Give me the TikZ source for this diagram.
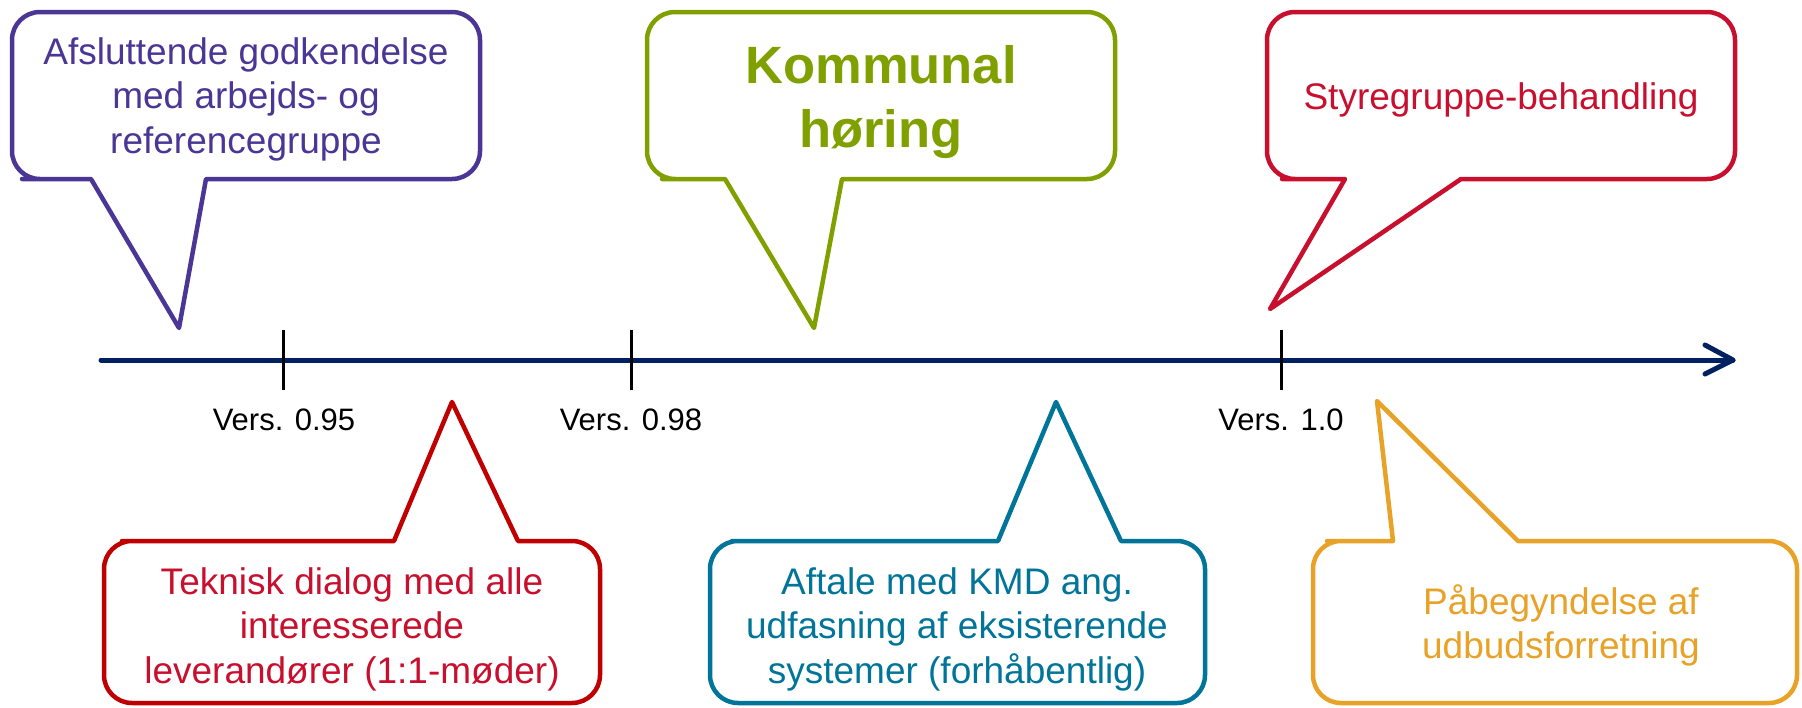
\documentclass[tikz,border=0pt]{standalone}
\usepackage{fontspec}
\setmainfont{Liberation Sans}
\definecolor{cPurple}{RGB}{75,54,150}
\definecolor{cGreen}{RGB}{128,160,0}
\definecolor{cCrimson}{RGB}{200,16,46}
\definecolor{cDarkRed}{RGB}{192,0,0}
\definecolor{cTeal}{RGB}{0,117,153}
\definecolor{cOrange}{RGB}{232,162,40}
\definecolor{cNavy}{RGB}{0,32,96}
\newcommand\mylines[1]{\begin{tabular}[t]{@{}c@{}}#1\end{tabular}}
\begin{document}
\begin{tikzpicture}[x=1pt,y=-1pt,
  bubble/.style={line width=4.5pt, line join=round, fill=white},
  txt/.style={inner sep=0pt, anchor=base, font=\fontsize{37}{44.5}\selectfont},
  bigtxt/.style={inner sep=0pt, anchor=base, font=\fontsize{52.5}{64.4}\selectfont\bfseries},
  vertxt/.style={inner sep=0pt, anchor=base, font=\fontsize{31}{37}\selectfont, text=black},
  tickline/.style={line width=3pt, draw=black},
  axisline/.style={line width=5pt, draw=cNavy, line cap=round, line join=round}]
\useasboundingbox (0,0) rectangle (1802,707);

% ---------- pointer tips ----------
\coordinate (p1) at (179,328);
\coordinate (p2) at (814,328);
\coordinate (p3) at (1270,309);
\coordinate (p4) at (452,402);
\coordinate (p5) at (1056,402);
\coordinate (p6) at (1377,401);

% ---------- top callouts ----------
\draw[bubble, draw=cPurple] (50,179) -- (91,179) -- (p1) -- (206,179)
  [rounded corners=28pt] -- (480,179) -- (480,12) -- (12,12) -- (12,179) -- cycle;
\draw[bubble, draw=cGreen] (690,179) -- (725,179) -- (p2) -- (842,179)
  [rounded corners=28pt] -- (1115,179) -- (1115,12) -- (647,12) -- (647,179) -- cycle;
\draw[bubble, draw=cCrimson] (1310,179) -- (1345,179) -- (p3) -- (1461,179)
  [rounded corners=28pt] -- (1735,179) -- (1735,12) -- (1267,12) -- (1267,179) -- cycle;

% ---------- bottom callouts ----------
\draw[bubble, draw=cDarkRed] (150,541) -- (394,541) -- (p4) -- (518,541)
  [rounded corners=28pt] -- (600,541) -- (600,703) -- (104,703) -- (104,541) -- cycle;
\draw[bubble, draw=cTeal] (760,541) -- (998,541) -- (p5) -- (1121,541)
  [rounded corners=28pt] -- (1205,541) -- (1205,703) -- (710,703) -- (710,541) -- cycle;
\draw[bubble, draw=cOrange] (1355,541) -- (1393,541) -- (p6) -- (1518,541)
  [rounded corners=28pt] -- (1797,541) -- (1797,703) -- (1313,703) -- (1313,541) -- cycle;

% ---------- texts ----------
\node[txt, text=cPurple] (t1) at (246,64.3) {\mylines{Afsluttende godkendelse\\med arbejds- og\\referencegruppe}};
\node[bigtxt, text=cGreen] (t2) at (881,83.3) {\mylines{Kommunal\\høring}};
\node[txt, text=cCrimson] (t3) at (1501,109.3) {Styregruppe-behandling};
\node[txt, text=cCrimson] (t4) at (352,594) {\mylines{Teknisk dialog med alle\\interesserede\\leverandører (1:1-møder)}};
\node[txt, text=cTeal] (t5) at (957,594) {\mylines{Aftale med KMD ang.\\udfasning af eksisterende\\systemer (forhåbentlig)}};
\node[txt, text=cOrange] (t6) at (1561,614.3) {\mylines{Påbegyndelse af\\udbudsforretning}};

% ---------- time axis ----------
\coordinate (axstart) at (101,360);
\coordinate (axend) at (1733,360);
\coordinate (tipup) at (1705,345);
\coordinate (tipdown) at (1705,374);
\draw[axisline] (axstart) -- (axend);
\draw[axisline] (tipup) -- (axend) -- (tipdown);

% ticks
\coordinate (k1a) at (283,330); \coordinate (k1b) at (283,390);
\coordinate (k2a) at (631,330); \coordinate (k2b) at (631,390);
\coordinate (k3a) at (1281,330); \coordinate (k3b) at (1281,390);
\draw[tickline] (k1a) -- (k1b);
\draw[tickline] (k2a) -- (k2b);
\draw[tickline] (k3a) -- (k3b);

\node[vertxt] (v1) at (284,430) {Vers. 0.95};
\node[vertxt] (v2) at (631,430) {Vers. 0.98};
\node[vertxt] (v3) at (1281,430) {Vers. 1.0};
\end{tikzpicture}
\end{document}
